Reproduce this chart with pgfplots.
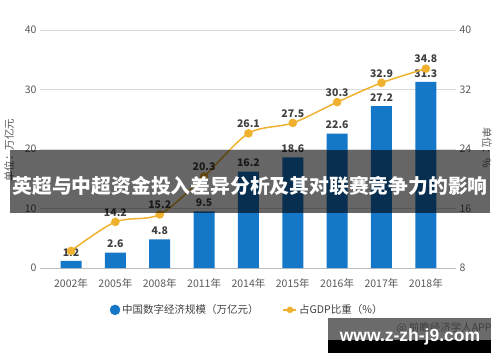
\documentclass[border=0pt]{standalone}
\usepackage{pgfplots}
\pgfplotsset{compat=1.18}
\usepackage{fontspec}
\setmainfont{Noto Sans CJK SC}
\newfontfamily\wmfont{Liberation Sans}
\definecolor{barblue}{HTML}{1577C7}
\definecolor{lineor}{HTML}{F0B12E}
\definecolor{txt}{HTML}{404040}
\definecolor{tickc}{HTML}{595959}
\definecolor{gridc}{HTML}{D9D9D9}
\tikzset{
  lab/.style={font=\bfseries\fontsize{10.5}{12}\selectfont, text=txt,
    /pgf/number format/fixed, /pgf/number format/precision=1,
    /pgf/number format/assume math mode=true},
}
\begin{document}
\begin{tikzpicture}
\useasboundingbox (0pt,0pt) rectangle (500pt,362pt);
\pgfplotsset{
  common/.style={
    at={(40pt,94pt)}, anchor=south west, scale only axis,
    width=416pt, height=238pt, xmin=-0.7, xmax=8.68,
    /pgf/number format/assume math mode=true,
    tick style={draw=none},
    ticklabel style={font=\fontsize{10.5}{12}\selectfont, text=tickc},
  },
}
\begin{axis}[common,
  ymin=0, ymax=40, ytick={0,10,20,30,40},
  ymajorgrids, grid style={gridc, line width=0.8pt},
  axis x line*=bottom, axis y line*=left,
  y axis line style={draw=none}, x axis line style={-, gridc!70!gray, line width=0.8pt},
  xtick={0,...,8},
  xticklabels={2002年,2005年,2008年,2011年,2014年,2015年,2016年,2017年,2018年},
  xticklabel style={yshift=-3pt},
  ybar, bar width=21pt,
  nodes near coords, nodes near coords style={lab, yshift=1pt},
]
\addplot[fill=barblue, draw=none] coordinates {(0,1.2)(1,2.6)(2,4.8)(3,9.5)(4,16.2)(5,18.6)(6,22.6)(7,27.2)(8,31.3)};
\end{axis}
\begin{axis}[common,
  ymin=8, ymax=40, ytick={8,16,24,32,40},
  axis y line*=right, y axis line style={draw=none},
  hide x axis,
  legend style={draw=none, fill=none, font=\fontsize{10.5}{12}\selectfont, text=txt,
    at={(0.498,-0.176)}, anchor=center,
    /tikz/every even column/.append style={column sep=22pt}},
  legend columns=2,
]
\addplot[lineor, line width=1.5pt, smooth, mark=*, mark size=3.5pt, mark options={fill=lineor, draw=lineor}, forget plot]
  coordinates {(0,10.3)(1,14.2)(2,15.2)(3,20.3)(4,26.1)(5,27.5)(6,30.3)(7,32.9)(8,34.8)};
\addplot[draw=none, mark=none, nodes near coords, nodes near coords style={lab, yshift=2pt}, forget plot]
  coordinates {(1,14.2)(2,15.2)(3,20.3)(4,26.1)(5,27.5)(6,30.3)(7,32.9)(8,34.8)};
\addlegendimage{legend image code/.code={\fill[barblue] (4pt,0pt) circle (5pt);}}
\addlegendentry{中国数字经济规模（万亿元）}
\addlegendimage{legend image code/.code={\draw[lineor,line width=1.5pt] (0pt,0pt)--(13pt,0pt); \fill[lineor] (6.5pt,0pt) circle (3pt);}}
\addlegendentry{占GDP比重（\%）}
\end{axis}
% axis titles
\node[rotate=90, text=tickc, font=\fontsize{10.5}{12}\selectfont] at (9pt,212pt) {单位：万亿元};
\node[rotate=-90, text=tickc, font=\fontsize{10.5}{12}\selectfont] at (487pt,214pt) {单位：\%};
% banner
\fill[black, opacity=0.6] (10pt,149.5pt) rectangle (490pt,212pt);
\node[text=white, font=\bfseries\fontsize{19.8}{22}\selectfont] at (250pt,176pt) {英超与中超资金投入差异分析及其对联赛竞争力的影响};
% watermark
\fill[black!58] (328pt,22pt) rectangle (491pt,44pt);
\fill[black] (328pt,9pt) rectangle (491pt,22pt);
\node[anchor=east, text=black!75, font=\fontsize{10.5}{12}\selectfont] at (495pt,34pt) {@ 前瞻经济学人APP};
\node[text=white, font=\wmfont\bfseries\fontsize{17.5}{20}\selectfont] at (410pt,25pt) {www.z-zh-j9.com};
\end{tikzpicture}
\end{document}
